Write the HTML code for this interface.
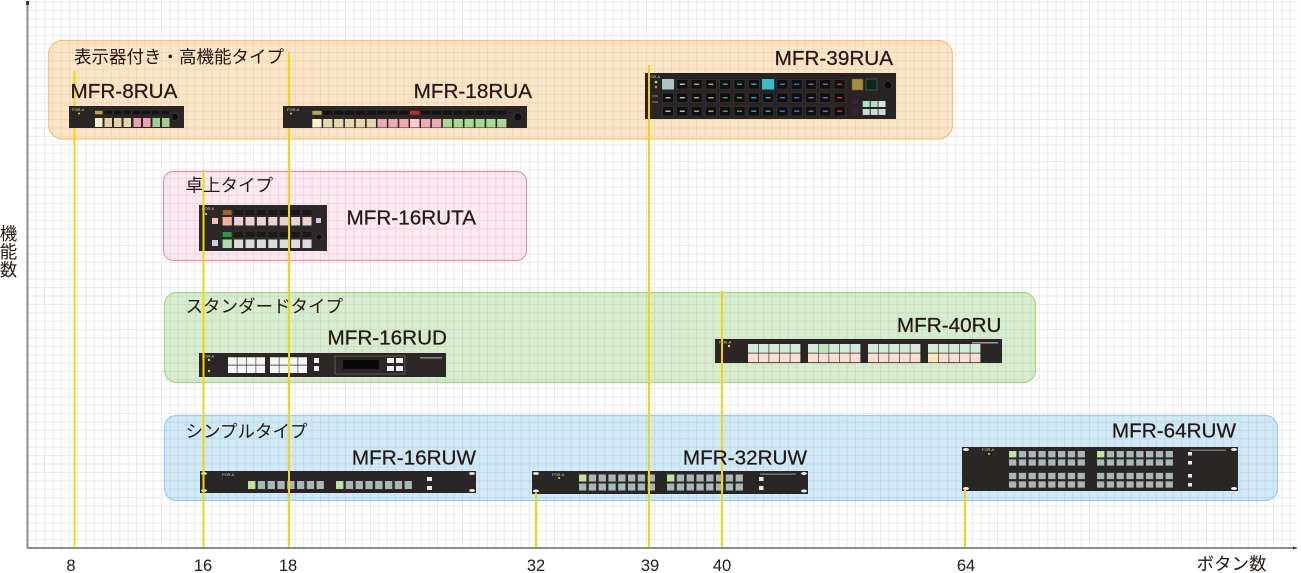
<!DOCTYPE html>
<html><head><meta charset="utf-8">
<style>
html,body{margin:0;padding:0;background:#fff;}
svg{display:block;}
text{font-family:"Liberation Sans","Noto Sans CJK JP",sans-serif;fill:#231815;}
.jp{font-size:17.5px;}
.m{font-size:20.7px;stroke:#231815;stroke-width:0.25px;}
.ax{font-size:16.5px;}
.lg{font-size:4px;fill:#cfcfcf;stroke:none;}
</style></head>
<body>
<svg width="1301" height="573" viewBox="0 0 1301 573" xmlns="http://www.w3.org/2000/svg">
<defs>
<pattern id="grid" x="27.3" y="1.5" width="8.36" height="8.4" patternUnits="userSpaceOnUse">
<path d="M0.5 0V8.4M0 0.5H8.36" stroke="#e9e9e9" stroke-width="1" fill="none"/>
</pattern>
</defs>
<rect x="27" y="0" width="1270" height="548" fill="url(#grid)"/>

<!-- category boxes -->
<rect x="48.5" y="40.5" width="904" height="98.5" rx="14" fill="#f7b860" fill-opacity="0.36" stroke="#f6c27a" stroke-width="1.2"/>
<rect x="163.5" y="171.5" width="363" height="89" rx="10" fill="#f090b8" fill-opacity="0.2" stroke="#ee8cbc" stroke-width="1.2"/>
<rect x="164.5" y="292.5" width="871" height="90" rx="12" fill="#8ccc70" fill-opacity="0.35" stroke="#a6d68e" stroke-width="1.2"/>
<rect x="164.5" y="415.5" width="1113" height="85" rx="12" fill="#6cbbe8" fill-opacity="0.33" stroke="#94ccec" stroke-width="1.2"/>

<!-- MFR-18RUA (under lines) -->
<g>
<rect x="283" y="106" width="244" height="22" fill="#2a2626"/>
<text x="287" y="111" class="lg">FOR.A</text>
<circle cx="291" cy="113.5" r="1" fill="#c8e040"/>
<line x1="312.3" y1="112.8" x2="506.4" y2="112.8" stroke="#141212" stroke-width="4" stroke-dasharray="9.3 1.57"/>
<rect x="312.3" y="110.8" width="9.3" height="4" fill="#b8a850"/>
<rect x="410.1" y="110.8" width="9.3" height="4" fill="#c82828"/>
<rect x="312.3" y="119" width="9.3" height="8.5" fill="#fbf2cc"/>
<line x1="323.17" y1="123.25" x2="375.95" y2="123.25" stroke="#e6d9ac" stroke-width="8.5" stroke-dasharray="9.3 1.57"/>
<line x1="377.52" y1="123.25" x2="441.17" y2="123.25" stroke="#f0a8b4" stroke-width="8.5" stroke-dasharray="9.3 1.57"/>
<rect x="410.13" y="119" width="9.3" height="8.5" fill="#f9c8cc"/>
<line x1="442.74" y1="123.25" x2="506.39" y2="123.25" stroke="#a8da94" stroke-width="8.5" stroke-dasharray="9.3 1.57"/>
<circle cx="518" cy="117" r="4" fill="#0e0e0e" stroke="#444" stroke-width="0.6"/>
</g>

<!-- MFR-8RUA -->
<g>
<rect x="69" y="106" width="115" height="22" fill="#2a2626"/>
<text x="72" y="111" class="lg">FOR.A</text>
<circle cx="79" cy="113.5" r="1" fill="#c8e040"/>
<line x1="95" y1="112.5" x2="169.5" y2="112.5" stroke="#141212" stroke-width="3.5" stroke-dasharray="7.5 2"/>
<rect x="95" y="110.8" width="7.5" height="3.5" fill="#c0a840"/>
<rect x="95" y="118" width="7.5" height="9" fill="#f8f0c8"/>
<line x1="104.5" y1="122.5" x2="131" y2="122.5" stroke="#e2d5a8" stroke-width="9" stroke-dasharray="7.5 2"/>
<line x1="133.5" y1="122.5" x2="150.5" y2="122.5" stroke="#eca2b0" stroke-width="9" stroke-dasharray="7.5 2"/>
<line x1="152.5" y1="122.5" x2="169.5" y2="122.5" stroke="#9dcf8e" stroke-width="9" stroke-dasharray="7.5 2"/>
<circle cx="175" cy="117" r="3.5" fill="#0e0e0e" stroke="#444" stroke-width="0.6"/>
</g>

<!-- MFR-39RUA -->
<g>
<rect x="645" y="73" width="251" height="46" fill="#282424"/>
<text x="648" y="78" class="lg">FOR.A</text>
<circle cx="656" cy="82" r="1.3" fill="#c8e040"/>
<circle cx="656" cy="87" r="1.3" fill="#f08020"/>
<rect x="652" y="95" width="6" height="2" fill="#555"/>
<rect x="652" y="101" width="6" height="2" fill="#555"/>
<line x1="662" y1="84.25" x2="845.6" y2="84.25" stroke="#3a3636" stroke-width="10.5" stroke-dasharray="12 2.3"/>
<line x1="662" y1="97.75" x2="845.6" y2="97.75" stroke="#3a3636" stroke-width="10.5" stroke-dasharray="12 2.3"/>
<line x1="662" y1="111.25" x2="845.6" y2="111.25" stroke="#3a3636" stroke-width="10.5" stroke-dasharray="12 2.3"/>
<line x1="662.8" y1="84.25" x2="844.8" y2="84.25" stroke="#0f0f0f" stroke-width="9" stroke-dasharray="10.4 3.9"/>
<line x1="662.8" y1="97.75" x2="844.8" y2="97.75" stroke="#0f0f0f" stroke-width="9" stroke-dasharray="10.4 3.9"/>
<line x1="662.8" y1="111.25" x2="844.8" y2="111.25" stroke="#0f0f0f" stroke-width="9" stroke-dasharray="10.4 3.9"/>
<rect x="662" y="79" width="12" height="10.5" fill="#a8c4c4"/>
<rect x="762.1" y="79" width="12" height="10.5" fill="#30c0c8"/>
<g stroke-width="5" stroke-dasharray="1.5 12">
<line x1="682.3" y1="83.5" x2="682.3" y2="112" stroke="#b8b8b8"/>
<line x1="696.6" y1="83.5" x2="696.6" y2="112" stroke="#b0a060"/>
<line x1="710.9" y1="83.5" x2="710.9" y2="112" stroke="#b0a060"/>
<line x1="725.2" y1="83.5" x2="725.2" y2="112" stroke="#40a060"/>
<line x1="739.5" y1="83.5" x2="739.5" y2="112" stroke="#40a060"/>
<line x1="753.8" y1="83.5" x2="753.8" y2="112" stroke="#30a0a0"/>
<line x1="782.4" y1="83.5" x2="782.4" y2="112" stroke="#4070c0"/>
<line x1="796.7" y1="83.5" x2="796.7" y2="112" stroke="#4070c0"/>
<line x1="811" y1="83.5" x2="811" y2="112" stroke="#8060b0"/>
<line x1="825.3" y1="83.5" x2="825.3" y2="112" stroke="#8060b0"/>
<line x1="839.6" y1="83.5" x2="839.6" y2="112" stroke="#c03040"/>
</g>
<line x1="668" y1="97" x2="668" y2="112" stroke="#b8b8b8" stroke-width="5" stroke-dasharray="1.5 12"/>
<line x1="768.1" y1="97" x2="768.1" y2="112" stroke="#30a0a0" stroke-width="5" stroke-dasharray="1.5 12"/>
<rect x="852" y="79" width="11" height="11" fill="#a89030" stroke="#555" stroke-width="0.6"/>
<rect x="866" y="79" width="11" height="11" fill="#10281c" stroke="#3a6a50" stroke-width="0.8"/>
<circle cx="888" cy="85" r="4" fill="#0c0c0c" stroke="#444" stroke-width="0.6"/>
<rect x="852" y="98" width="6" height="6" fill="#3a2040"/>
<rect x="852" y="108" width="6" height="6" fill="#3a2040"/>
<rect x="862.7" y="101" width="7" height="6" fill="#a8e0c8"/>
<rect x="870.7" y="101" width="7" height="6" fill="#a8e0c8"/>
<rect x="878.5" y="101" width="7" height="6" fill="#d8e0e0"/>
<rect x="862.7" y="109" width="7" height="6" fill="#d0d8d8"/>
<rect x="870.7" y="109" width="7" height="6" fill="#d0d8d8"/>
<rect x="878.5" y="109" width="7" height="6" fill="#d0d8d8"/>
</g>

<!-- MFR-16RUTA -->
<g>
<rect x="199" y="205" width="128" height="46" fill="#2c2828"/>
<text x="202" y="210" class="lg">FOR.A</text>
<circle cx="206" cy="214" r="1.1" fill="#c8e040"/>
<line x1="222.7" y1="212.5" x2="311.5" y2="212.5" stroke="#1a1818" stroke-width="5" stroke-dasharray="9 2.4"/>
<rect x="222.7" y="210" width="9" height="5" fill="#a06030"/>
<line x1="222.7" y1="221.25" x2="311.5" y2="221.25" stroke="#e8d2d2" stroke-width="8.5" stroke-dasharray="9 2.4"/>
<rect x="222.7" y="217" width="9" height="8.5" fill="#f4b098"/>
<rect x="212" y="218" width="6" height="6" fill="#f0c0c0"/>
<rect x="316" y="218" width="5" height="5" fill="#c0c8e0"/>
<line x1="222.7" y1="234.5" x2="311.5" y2="234.5" stroke="#1a1818" stroke-width="5" stroke-dasharray="9 2.4"/>
<rect x="222.7" y="232" width="9" height="5" fill="#20a040"/>
<line x1="222.7" y1="243.75" x2="311.5" y2="243.75" stroke="#dcdcdc" stroke-width="8.5" stroke-dasharray="9 2.4"/>
<rect x="222.7" y="239.5" width="9" height="8.5" fill="#a8e0b4"/>
<rect x="212" y="240" width="6" height="6" fill="#c8d0e8"/>
<circle cx="319" cy="237" r="3" fill="#0e0e0e" stroke="#444" stroke-width="0.6"/>
</g>

<!-- MFR-16RUD -->
<g>
<rect x="199" y="353" width="247" height="24" fill="#2c2626"/>
<text x="202" y="357.5" class="lg">FOR.A</text>
<circle cx="209" cy="360" r="1.2" fill="#e0e040"/>
<circle cx="209" cy="371" r="1.2" fill="#e0e040"/>
<line x1="228" y1="361" x2="265" y2="361" stroke="#f6f6f6" stroke-width="7.5" stroke-dasharray="8.8 0.6"/>
<line x1="228" y1="369.3" x2="265" y2="369.3" stroke="#f6f6f6" stroke-width="7.5" stroke-dasharray="8.8 0.6"/>
<line x1="270" y1="361" x2="307" y2="361" stroke="#f6f6f6" stroke-width="7.5" stroke-dasharray="8.8 0.6"/>
<line x1="270" y1="369.3" x2="307" y2="369.3" stroke="#f6f6f6" stroke-width="7.5" stroke-dasharray="8.8 0.6"/>
<rect x="314" y="358" width="5" height="5" fill="#eee"/>
<rect x="314" y="366" width="5" height="5" fill="#eee"/>
<rect x="335" y="356" width="70" height="18" fill="none" stroke="#666" stroke-width="0.8"/>
<rect x="343" y="360" width="36" height="9" fill="#080808"/>
<rect x="387" y="358" width="7" height="5" fill="#f0f0f0"/>
<rect x="396" y="358" width="7" height="5" fill="#f0f0f0"/>
<rect x="387" y="366" width="7" height="5" fill="#f0f0f0"/>
<rect x="396" y="366" width="7" height="5" fill="#f0f0f0"/>
<rect x="420" y="357" width="22" height="1.5" fill="#888"/>
</g>

<!-- MFR-40RU -->
<g>
<rect x="715" y="339" width="287" height="24" fill="#2a2626"/>
<text x="719" y="343.5" class="lg">FOR.A</text>
<circle cx="729" cy="346" r="1.2" fill="#e0e040"/>
<line x1="748" y1="348.4" x2="800.4" y2="348.4" stroke="#d3ecd9" stroke-width="8.8" stroke-dasharray="10 0.6"/>
<line x1="808" y1="348.4" x2="860.4" y2="348.4" stroke="#d3ecd9" stroke-width="8.8" stroke-dasharray="10 0.6"/>
<line x1="868" y1="348.4" x2="920.4" y2="348.4" stroke="#d3ecd9" stroke-width="8.8" stroke-dasharray="10 0.6"/>
<line x1="928" y1="348.4" x2="980.4" y2="348.4" stroke="#d3ecd9" stroke-width="8.8" stroke-dasharray="10 0.6"/>
<line x1="748" y1="357.9" x2="800.4" y2="357.9" stroke="#fbdcd3" stroke-width="8.8" stroke-dasharray="10 0.6"/>
<line x1="808" y1="357.9" x2="860.4" y2="357.9" stroke="#fbdcd3" stroke-width="8.8" stroke-dasharray="10 0.6"/>
<line x1="868" y1="357.9" x2="920.4" y2="357.9" stroke="#fbdcd3" stroke-width="8.8" stroke-dasharray="10 0.6"/>
<line x1="928" y1="357.9" x2="980.4" y2="357.9" stroke="#fbdcd3" stroke-width="8.8" stroke-dasharray="10 0.6"/>
<rect x="818.6" y="344" width="10" height="8.8" fill="#bfe6bf"/>
<rect x="928" y="353.5" width="10" height="8.8" fill="#ffe6b4"/>
<rect x="972" y="342" width="26" height="1.5" fill="#999"/>
</g>

<!-- MFR-16RUW -->
<g>
<rect x="200" y="471" width="276" height="22" fill="#2a2626"/>
<ellipse cx="204" cy="473.5" rx="3" ry="1.5" fill="#eee"/>
<ellipse cx="204" cy="490.5" rx="3" ry="1.5" fill="#eee"/>
<ellipse cx="472" cy="473.5" rx="3" ry="1.5" fill="#eee"/>
<ellipse cx="472" cy="490.5" rx="3" ry="1.5" fill="#eee"/>
<text x="222" y="476" class="lg">FOR.A</text>
<line x1="248" y1="485" x2="323.9" y2="485" stroke="#a8b8b8" stroke-width="8" stroke-dasharray="7.3 2.5"/>
<line x1="336" y1="485" x2="411.9" y2="485" stroke="#a8b8b8" stroke-width="8" stroke-dasharray="7.3 2.5"/>
<rect x="248" y="481" width="7.3" height="8" fill="#bde39d"/>
<rect x="336" y="481" width="7.3" height="8" fill="#bde39d"/>
<rect x="427" y="477" width="5" height="4" fill="#e8e8e8"/>
<rect x="427" y="486" width="5" height="4" fill="#e8e8e8"/>
</g>

<!-- MFR-32RUW -->
<g>
<rect x="532" y="471" width="276" height="23" fill="#2a2626"/>
<ellipse cx="536" cy="473.5" rx="3" ry="1.5" fill="#eee"/>
<ellipse cx="536" cy="491" rx="3" ry="1.5" fill="#eee"/>
<ellipse cx="804" cy="473.5" rx="3" ry="1.5" fill="#eee"/>
<ellipse cx="804" cy="491" rx="3" ry="1.5" fill="#eee"/>
<text x="552" y="476" class="lg">FOR.A</text>
<circle cx="559" cy="478" r="1" fill="#c8e040"/>
<line x1="579" y1="478" x2="654.9" y2="478" stroke="#a8b8b8" stroke-width="7" stroke-dasharray="7.3 2.5"/>
<line x1="579" y1="487" x2="654.9" y2="487" stroke="#a8b8b8" stroke-width="7" stroke-dasharray="7.3 2.5"/>
<line x1="667" y1="478" x2="742.9" y2="478" stroke="#a8b8b8" stroke-width="7" stroke-dasharray="7.3 2.5"/>
<line x1="667" y1="487" x2="742.9" y2="487" stroke="#a8b8b8" stroke-width="7" stroke-dasharray="7.3 2.5"/>
<rect x="579" y="474.5" width="7.3" height="7" fill="#bde39d"/>
<rect x="667" y="474.5" width="7.3" height="7" fill="#bde39d"/>
<rect x="759" y="477" width="4.5" height="4" fill="#e8e8e8"/>
<rect x="759" y="486" width="4.5" height="4" fill="#e8e8e8"/>
<rect x="760" y="473.5" width="36" height="1.2" fill="#888"/>
</g>

<!-- MFR-64RUW -->
<g>
<rect x="962" y="447" width="276" height="44" fill="#2a2626"/>
<ellipse cx="966" cy="449.5" rx="3" ry="1.5" fill="#eee"/>
<ellipse cx="966" cy="488.5" rx="3" ry="1.5" fill="#eee"/>
<ellipse cx="1234" cy="449.5" rx="3" ry="1.5" fill="#eee"/>
<ellipse cx="1234" cy="488.5" rx="3" ry="1.5" fill="#eee"/>
<text x="982" y="451" class="lg">FOR.A</text>
<circle cx="989" cy="454" r="1" fill="#c8e040"/>
<line x1="1009" y1="454.2" x2="1084.9" y2="454.2" stroke="#a8b8b8" stroke-width="6.3" stroke-dasharray="7.3 2.5"/>
<line x1="1009" y1="462.5" x2="1084.9" y2="462.5" stroke="#a8b8b8" stroke-width="6.3" stroke-dasharray="7.3 2.5"/>
<line x1="1009" y1="476" x2="1084.9" y2="476" stroke="#a8b8b8" stroke-width="6.3" stroke-dasharray="7.3 2.5"/>
<line x1="1009" y1="484.5" x2="1084.9" y2="484.5" stroke="#a8b8b8" stroke-width="6.3" stroke-dasharray="7.3 2.5"/>
<line x1="1097" y1="454.2" x2="1172.9" y2="454.2" stroke="#a8b8b8" stroke-width="6.3" stroke-dasharray="7.3 2.5"/>
<line x1="1097" y1="462.5" x2="1172.9" y2="462.5" stroke="#a8b8b8" stroke-width="6.3" stroke-dasharray="7.3 2.5"/>
<line x1="1097" y1="476" x2="1172.9" y2="476" stroke="#a8b8b8" stroke-width="6.3" stroke-dasharray="7.3 2.5"/>
<line x1="1097" y1="484.5" x2="1172.9" y2="484.5" stroke="#a8b8b8" stroke-width="6.3" stroke-dasharray="7.3 2.5"/>
<rect x="1009" y="451" width="7.3" height="6.3" fill="#bde39d"/>
<rect x="1097" y="451" width="7.3" height="6.3" fill="#bde39d"/>
<rect x="1188" y="452" width="4" height="3.5" fill="#e8e8e8"/>
<rect x="1188" y="461" width="4" height="3.5" fill="#e8e8e8"/>
<rect x="1188" y="474" width="4" height="3.5" fill="#e8e8e8"/>
<rect x="1188" y="483" width="4" height="3.5" fill="#e8e8e8"/>
<rect x="1190" y="449.5" width="36" height="1.2" fill="#888"/>
</g>

<!-- yellow lines -->
<g stroke="#f3d700" stroke-width="2">
<line x1="74.5" y1="71" x2="74.5" y2="106"/>
<line x1="74.5" y1="128" x2="74.5" y2="548"/>
<line x1="203.5" y1="170" x2="203.5" y2="548"/>
<line x1="289" y1="52" x2="289" y2="106"/>
<line x1="289" y1="128" x2="289" y2="548"/>
<line x1="536" y1="493" x2="536" y2="548"/>
<line x1="649" y1="65" x2="649" y2="548"/>
<line x1="722" y1="291" x2="722" y2="548"/>
<line x1="965" y1="490" x2="965" y2="548"/>
</g>

<!-- axes -->
<line x1="27.5" y1="2" x2="27.5" y2="548" stroke="#8c8c8c" stroke-width="2"/>
<rect x="26" y="1" width="3" height="4" fill="#333"/>
<line x1="27" y1="548" x2="1294" y2="548" stroke="#8c8c8c" stroke-width="2"/>
<path d="M1293 546.5 L1298 548 L1293 549.5Z" fill="#333"/>

<!-- labels -->
<text x="74" y="63" class="jp">表示器付き・高機能タイプ</text>
<text x="185.5" y="191.5" class="jp">卓上タイプ</text>
<text x="185.5" y="312.5" class="jp">スタンダードタイプ</text>
<text x="185.5" y="437.5" class="jp">シンプルタイプ</text>

<text x="70.5" y="98" class="m">MFR-8RUA</text>
<text x="532" y="98" class="m" text-anchor="end">MFR-18RUA</text>
<text x="893" y="65" class="m" text-anchor="end">MFR-39RUA</text>
<text x="346.5" y="224.5" class="m">MFR-16RUTA</text>
<text x="447" y="344.5" class="m" text-anchor="end">MFR-16RUD</text>
<text x="1001.5" y="332" class="m" text-anchor="end">MFR-40RU</text>
<text x="476" y="464.5" class="m" text-anchor="end">MFR-16RUW</text>
<text x="807" y="464.5" class="m" text-anchor="end">MFR-32RUW</text>
<text x="1236" y="437.5" class="m" text-anchor="end">MFR-64RUW</text>

<text x="71" y="571" class="ax" text-anchor="middle">8</text>
<text x="203" y="571" class="ax" text-anchor="middle">16</text>
<text x="288" y="571" class="ax" text-anchor="middle">18</text>
<text x="536" y="571" class="ax" text-anchor="middle">32</text>
<text x="650" y="571" class="ax" text-anchor="middle">39</text>
<text x="722" y="571" class="ax" text-anchor="middle">40</text>
<text x="966" y="571" class="ax" text-anchor="middle">64</text>
<text x="1196.5" y="570" class="jp">ボタン数</text>

<text x="8.5" y="240" class="jp" text-anchor="middle">機</text>
<text x="8.5" y="258" class="jp" text-anchor="middle">能</text>
<text x="8.5" y="276" class="jp" text-anchor="middle">数</text>
</svg>
</body></html>
